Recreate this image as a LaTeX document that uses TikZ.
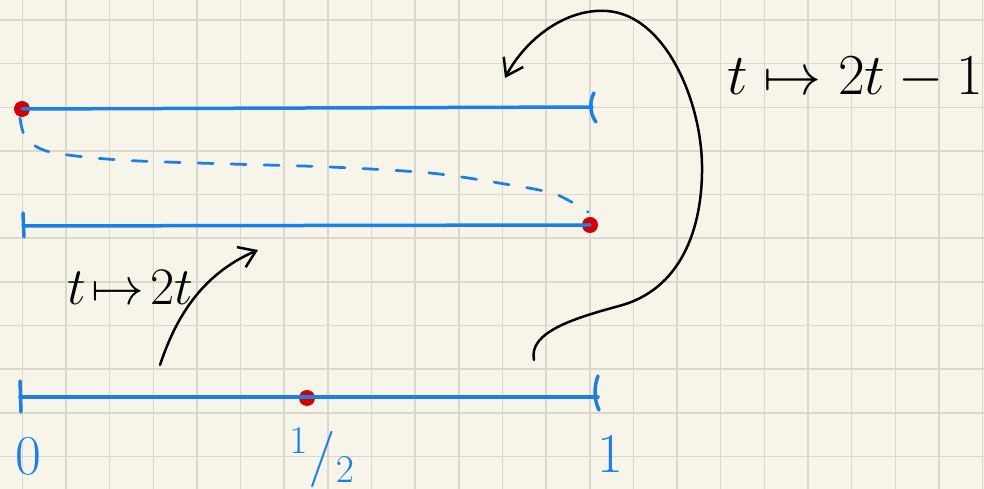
\RequirePackage{fix-cm}
\documentclass[tikz,border=0pt]{standalone}
\usepackage{amsmath}
\usepackage{tikz}
\usetikzlibrary{arrows.meta}
\definecolor{paper}{HTML}{F7F5EA}
\definecolor{gridline}{HTML}{DAD8CC}
\definecolor{pen}{HTML}{1A80E6}
\definecolor{dot}{HTML}{D40000}

\begin{document}
\begin{tikzpicture}[x=0.2mm, y=-0.2mm, >={Straight Barb[length=3.2mm,width=4.4mm]},
  seg/.style={pen, line width=0.7mm, line cap=round},
  pt/.style={circle, fill=dot, inner sep=0pt, minimum size=3.2mm},
  lbl/.style={pen, font=\fontsize{32}{34}\selectfont},
  ink/.style={black, line width=0.5mm, line cap=round},
  rule/.style={black, font=\fontsize{30}{32}\selectfont}]
% paper
\fill[paper] (0,0) rectangle (984,489);
\useasboundingbox (0,0) rectangle (984,489);
\foreach \k in {0,...,22} \draw[gridline, line width=0.3mm] (22.3+43.65*\k,0) -- ++(0,489);
\foreach \k in {0,...,10} \draw[gridline, line width=0.3mm] (0,20+43.65*\k) -- ++(984,0);

% the three copies of [0,1]
\coordinate (a1) at (592,107);
\coordinate (b0) at (23,226);
\coordinate (c0) at (20,397);
\coordinate (c1) at (598,397);
\node[pt] (p0) at (22,109) {};
\node[pt] (p1) at (590,225) {};
\node[pt] (ph) at (307,398) {};
\draw[seg] (p0.center) -- (a1);
\draw[seg] (b0) -- (p1.center);
\draw[seg] (c0) -- (c1);
\draw[seg] (594,93) .. controls (589,102) and (590,114) .. (596,122);
\draw[seg] (23,213) -- (24,237);
\draw[seg] (20,381) -- (21,412);
\draw[seg] (598,376) .. controls (594,386) and (594,400) .. (599,410);
\draw[seg, line width=0.55mm, dash pattern=on 3mm off 3.6mm]
  plot[smooth] coordinates {(20,118) (26,138) (50,152) (120,160) (230,164) (330,167) (430,173) (505,184) (555,194) (588,212)};

% labels
\node[lbl] (n0) at (28,456) {$0$};
\node[lbl] (nh) at (322,458) {$^1/_2$};
\node[lbl] (n1) at (610,454) {$1$};

% the two maps
\node[rule] (left) at (130,288) {$t\!\mapsto\!2t$};
\draw[ink, ->] (160,365) .. controls (175,320) and (200,275) .. (258,250);
\node[rule, font=\fontsize{33}{35}\selectfont] (right) at (855,78) {$t\mapsto 2t-1$};
\draw[ink, ->] (534,360) .. controls (528,332) and (575,318) .. (619,306)
  .. controls (680,290) and (703,230) .. (702,165)
  .. controls (701,100) and (665,15) .. (607,11)
  .. controls (565,8) and (525,40) .. (505,78);
\end{tikzpicture}
\end{document}
